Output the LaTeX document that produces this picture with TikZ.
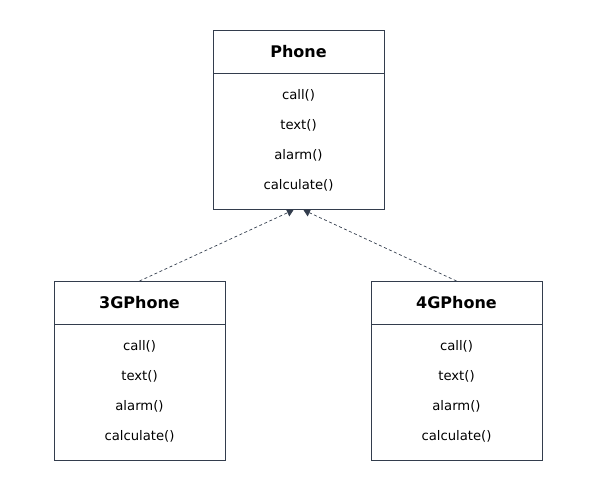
\documentclass[tikz,border=0pt]{standalone}
\usepackage{fontspec}
\setmainfont{DejaVu Sans}
\usetikzlibrary{calc,arrows.meta}
\definecolor{edge}{HTML}{333D4D}
\newcommand\umlclass[3]{%
  \node[classbox] (#1) at (#2) {};
  \node[classtitle] (#1t) at ($(#1.north)+(0,21.5)$) {#3};
  \coordinate (#1sl) at ($(#1.north west)+(0,43)$);
  \coordinate (#1sr) at ($(#1.north east)+(0,43)$);
  \draw[edge, line width=0.8pt] (#1sl) -- (#1sr);
  \node[method] (#1m1) at ($(#1.north)+(0,65)$) {call()};
  \node[method] (#1m2) at ($(#1.north)+(0,95)$) {text()};
  \node[method] (#1m3) at ($(#1.north)+(0,125)$) {alarm()};
  \node[method] (#1m4) at ($(#1.north)+(0,155.5)$) {calculate()};
}
\begin{document}
\begin{tikzpicture}[x=1pt,y=-1pt,
  classbox/.style={draw=edge, line width=0.8pt, fill=white, minimum width=171pt, minimum height=179pt, inner sep=0pt, outer sep=0pt},
  classtitle/.style={font=\fontsize{16}{19}\selectfont\bfseries, text=black, inner sep=0pt},
  method/.style={font=\fontsize{13.2}{16}\selectfont, text=black, inner sep=0pt},
  realize/.style={draw=edge, line width=0.7pt, dash pattern=on 3pt off 2.5pt, -{Triangle[length=6.5pt,width=8pt]}}
]
\useasboundingbox (0,0) rectangle (597,495);
\umlclass{phone}{298.5,119.5}{Phone}
\umlclass{g3}{139.5,370.5}{3GPhone}
\umlclass{g4}{456.5,370.5}{4GPhone}
\coordinate (tipl) at ($(phone.south)+(-5,1)$);
\coordinate (tipr) at ($(phone.south)+(5,1)$);
\draw[realize] (g3.north) -- (tipl);
\draw[realize] (g4.north) -- (tipr);
\end{tikzpicture}
\end{document}
